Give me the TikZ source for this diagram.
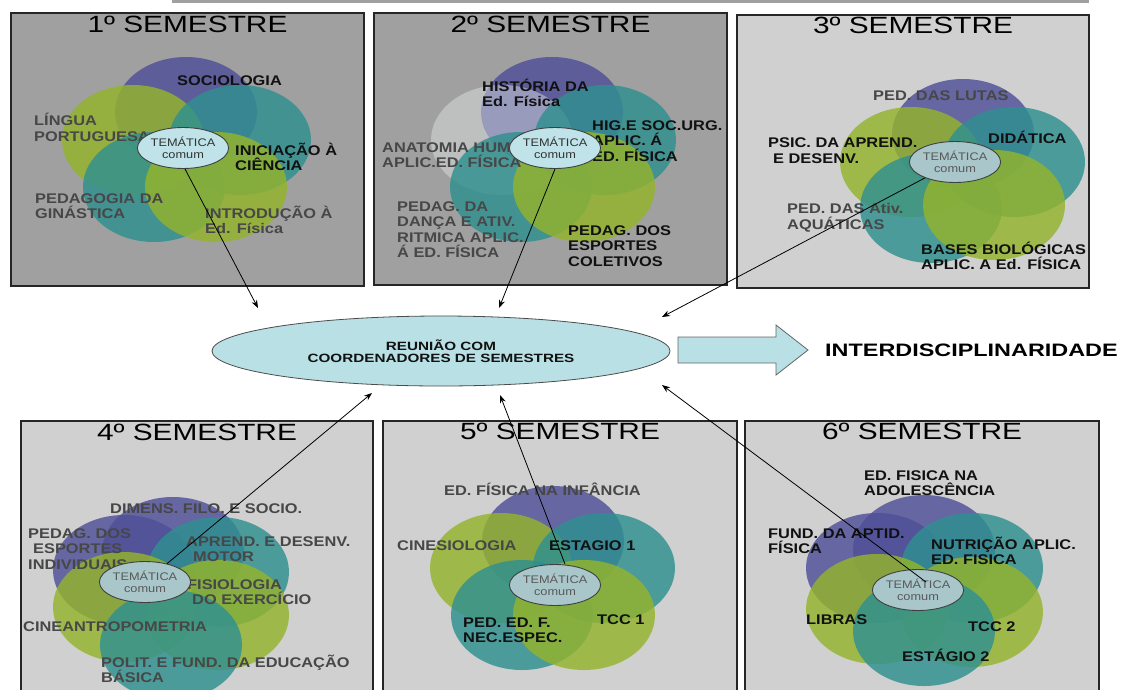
\documentclass[tikz,border=0pt]{standalone}
\usepackage{fontspec}
\usetikzlibrary{shapes.geometric,arrows.meta}
\setmainfont{Liberation Sans}
\newfontfamily\ttlfont{Liberation Sans}[FakeStretch=1.27]
\newfontfamily\labfont{Liberation Sans}[FakeStretch=1.17]
\newfontfamily\temfont{Liberation Sans}[FakeStretch=1.16]
\newfontfamily\reufont{Liberation Sans}[FakeStretch=1.27]
\newfontfamily\bigfont{Liberation Sans}[FakeStretch=1.3]
\definecolor{pur}{HTML}{4F4F98}
\definecolor{tea}{HTML}{2F9090}
\definecolor{ygr}{HTML}{94B42C}
\definecolor{wht}{HTML}{E4E8E8}
\definecolor{dkbg}{HTML}{A0A0A0}
\definecolor{ltbg}{HTML}{D0D0D0}
\definecolor{temA}{HTML}{BFE3E8}
\definecolor{temB}{HTML}{A9C6CA}
\definecolor{reuc}{HTML}{B9E0E4}
\definecolor{gtxt}{HTML}{474747}
\definecolor{btxt}{HTML}{111111}
\begin{document}
\begin{tikzpicture}[x=1pt,y=-1pt,
  panel/.style={draw=black!85, line width=1.1pt},
  blob/.style={fill=#1, fill opacity=0.82},
  lab/.style={anchor=north west, inner sep=0pt, align=left, text=btxt,
    font=\labfont\bfseries\fontsize{14}{15.5}\selectfont,
    execute at begin node={\rule{0pt}{13.5pt}}},
  glab/.style={lab, text=gtxt},
  ttl/.style={anchor=base, inner sep=0pt, font=\ttlfont\fontsize{23.5}{26}\selectfont},
  tem/.style={ellipse, draw=black!75, line width=0.9pt, fill=#1, minimum width=77pt,
    minimum height=41pt, inner sep=0pt, align=center,
    font=\temfont\fontsize{11}{12.5}\selectfont},
  conn/.style={line width=0.8pt, -{Stealth[length=8pt,width=6pt]}},
  bigarrow/.style={fill=reuc, draw=black!60, line width=0.8pt}
]
\useasboundingbox (0,0) rectangle (1127,689);
\clip (0,0) rectangle (1127,689);
\fill[white] (0,0) rectangle (1127,689);
\fill[dkbg] (172,0) rectangle (1089,3.3);

% ---------- Panel 1
\draw[panel, fill=dkbg] (11,13) rectangle (364,286);
\fill[blob=pur] (186,112) ellipse [x radius=71, y radius=55];
\fill[blob=ygr] (133,140) ellipse [x radius=71, y radius=55];
\fill[blob=tea] (240,140) ellipse [x radius=71, y radius=55];
\fill[blob=tea] (154,187) ellipse [x radius=71, y radius=55];
\fill[blob=ygr] (216,187) ellipse [x radius=71, y radius=55];
\node[lab] (l1a) at (177,71.5) {SOCIOLOGIA};
\node[glab] (l1b) at (34,113) {LÍNGUA\\PORTUGUESA};
\node[lab] (l1c) at (235,142.5) {INICIAÇÃO À\\CIÊNCIA};
\node[glab] (l1d) at (35,193.5) {PEDAGOGIA DA\\GINÁSTICA};
\node[glab] (l1e) at (205,205.5) {INTRODUÇÃO À\\Ed. Física};
\node[tem=temA, text=black!80] (t1) at (183,148) {TEMÁTICA\\comum};
\node[ttl] (h1) at (187.5,32) {1º SEMESTRE};

% ---------- Panel 2
\draw[panel, fill=dkbg] (374,13) rectangle (727,285);
\fill[blob=pur] (552,112) ellipse [x radius=71, y radius=55];
\fill[blob=wht, fill opacity=0.45] (502,140) ellipse [x radius=71, y radius=55];
\fill[blob=tea] (605,140) ellipse [x radius=71, y radius=55];
\fill[blob=tea] (521,187) ellipse [x radius=71, y radius=55];
\fill[blob=ygr] (584,187) ellipse [x radius=71, y radius=55];
\node[lab] (l2a) at (482,78.5) {HISTÓRIA DA\\Ed. Física};
\node[lab] (l2b) at (592,120.5) {HIG.E SOC.URG.\\APLIC. Á\\ED. FÍSICA};
\node[glab] (l2c) at (382,142.5) {ANATOMIA HUMANA\\APLIC.ED. FÍSICA};
\node[glab] (l2d) at (397,201.5) {PEDAG. DA\\DANÇA E ATIV.\\RITMICA APLIC.\\Á ED. FÍSICA};
\node[lab] (l2e) at (568,225.5) {PEDAG. DOS\\ESPORTES\\COLETIVOS};
\node[tem=temA, text=black!80] (t2) at (555,148) {TEMÁTICA\\comum};
\node[ttl] (h2) at (550.5,32) {2º SEMESTRE};

% ---------- Panel 3
\draw[panel, fill=ltbg] (737,15) rectangle (1089,288);
\fill[blob=pur] (963,134) ellipse [x radius=71, y radius=55];
\fill[blob=ygr] (911,162) ellipse [x radius=71, y radius=55];
\fill[blob=tea] (1014,162) ellipse [x radius=71, y radius=55];
\fill[blob=tea] (931,208) ellipse [x radius=71, y radius=55];
\fill[blob=ygr] (994,205) ellipse [x radius=71, y radius=55];
\node[glab] (l3a) at (873,86.5) {PED. DAS LUTAS};
\node[lab] (l3b) at (988,129.5) {DIDÁTICA};
\node[lab] (l3c) at (768,138) {PSIC. DA APREND.\\\hspace*{5pt}E DESENV.};
\node[glab] (l3d) at (787,203.5) {PED. DAS Ativ.\\AQUÁTICAS};
\node[lab] (l3e) at (921,241.5) {BASES BIOLÓGICAS\\APLIC. A Ed. FÍSICA};
\node[tem=temB, text=black!65] (t3) at (955,162) {TEMÁTICA\\comum};
\node[ttl] (h3) at (913,33.4) {3º SEMESTRE};

% ---------- Panel 4
\draw[panel, fill=ltbg] (21,421) rectangle (373,700);
\fill[blob=pur] (173,552) ellipse [x radius=71, y radius=55];
\fill[blob=pur] (124,570) ellipse [x radius=71, y radius=55];
\fill[blob=tea] (218,572) ellipse [x radius=71, y radius=55];
\fill[blob=ygr] (124,607) ellipse [x radius=71, y radius=55];
\fill[blob=ygr] (218,615) ellipse [x radius=71, y radius=55];
\fill[blob=tea] (171,645) ellipse [x radius=71, y radius=55];
\node[glab] (l4a) at (110,499.5) {DIMENS. FILO. E SOCIO.};
\node[glab] (l4b) at (28,528.5) {PEDAG. DOS\\\hspace*{5pt}ESPORTES\\INDIVIDUAIS};
\node[glab] (l4c) at (186,536.5) {APREND. E DESENV.\\\hspace*{7pt}MOTOR};
\node[glab] (l4d) at (187,579.5) {FISIOLOGIA\\\hspace*{5pt}DO EXERCÍCIO};
\node[glab] (l4e) at (23,617.5) {CINEANTROPOMETRIA};
\node[glab] (l4f) at (101,654.5) {POLIT. E FUND. DA EDUCAÇÃO\\BÁSICA};
\node[tem=temB, text=black!65] (t4) at (145,582) {TEMÁTICA\\comum};
\node[ttl] (h4) at (197,440.4) {4º SEMESTRE};

% ---------- Panel 5
\draw[panel, fill=ltbg] (383,421) rectangle (737,700);
\fill[blob=pur] (553,541) ellipse [x radius=71, y radius=55];
\fill[blob=ygr] (501,568) ellipse [x radius=71, y radius=55];
\fill[blob=tea] (604,568) ellipse [x radius=71, y radius=55];
\fill[blob=tea] (522,615) ellipse [x radius=71, y radius=55];
\fill[blob=ygr] (584,615) ellipse [x radius=71, y radius=55];
\node[glab] (l5a) at (444,481.5) {ED. FÍSICA NA INFÂNCIA};
\node[glab] (l5b) at (397,536.5) {CINESIOLOGIA};
\node[lab] (l5c) at (549,536.5) {ESTAGIO 1};
\node[lab] (l5d) at (597,610.5) {TCC 1};
\node[lab] (l5e) at (463,617.5) {PED. ED. F.\\NEC.ESPEC.};
\node[tem=temB, text=black!65] (t5) at (555,585) {TEMÁTICA\\comum};
\node[ttl] (h5) at (560,439.9) {5º SEMESTRE};

% ---------- Panel 6
\draw[panel, fill=ltbg] (745,421) rectangle (1099,700);
\fill[blob=pur] (924,550) ellipse [x radius=71, y radius=55];
\fill[blob=pur] (877,568) ellipse [x radius=71, y radius=55];
\fill[blob=tea] (972,568) ellipse [x radius=71, y radius=55];
\fill[blob=ygr] (877,609) ellipse [x radius=71, y radius=55];
\fill[blob=ygr] (972,612) ellipse [x radius=71, y radius=55];
\fill[blob=tea] (924,631) ellipse [x radius=71, y radius=55];
\node[lab] (l6a) at (864,470.5) {ED. FISICA NA\\ADOLESCÊNCIA};
\node[lab] (l6b) at (768,528.5) {FUND. DA APTID.\\FÍSICA};
\node[lab] (l6c) at (931,536.5) {NUTRIÇÃO APLIC.\\ED. FISICA};
\node[lab] (l6d) at (806,610.5) {LIBRAS};
\node[lab] (l6e) at (968,617.5) {TCC 2};
\node[lab] (l6f) at (902,647.5) {ESTÁGIO 2};
\node[tem=temB, text=black!65] (t6) at (918,590) {TEMÁTICA\\comum};
\node[ttl] (h6) at (922,439.4) {6º SEMESTRE};

% ---------- Centre
\node[ellipse, draw=black!70, line width=0.8pt, fill=reuc, minimum width=458pt,
  minimum height=70pt, inner sep=0pt, align=center, text=btxt,
  font=\reufont\bfseries\fontsize{12}{12.5}\selectfont] (reu) at (441,351)
  {REUNIÃO COM\\COORDENADORES DE SEMESTRES};
\draw[bigarrow] (678,337) -- (776,337) -- (776,325) -- (808,350) -- (776,375)
  -- (776,363) -- (678,363) -- cycle;
\node[anchor=base west, inner sep=0pt, text=black,
  font=\bigfont\bfseries\fontsize{18}{20}\selectfont] (inter) at (825,356)
  {INTERDISCIPLINARIDADE};

% ---------- Connectors
\coordinate (a1) at (258,308);
\coordinate (a2) at (499,308);
\coordinate (a3) at (662,317);
\coordinate (a4) at (372,393);
\coordinate (a5) at (500,395);
\coordinate (a6) at (662,385);
\draw[conn] ([xshift=2pt]t1.south) -- (a1);
\draw[conn] (t2.south) -- (a2);
\draw[conn] (t3) -- (a3);
\draw[conn] (t4) -- (a4);
\draw[conn] ([xshift=10pt]t5.north) -- (a5);
\draw[conn] ([shift={(8,-8)}]t6.center) -- (a6);
\end{tikzpicture}
\end{document}
